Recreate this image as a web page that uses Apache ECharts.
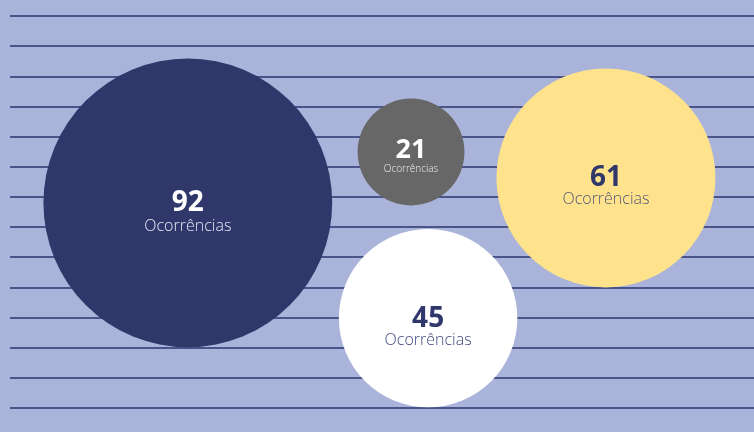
<!DOCTYPE html>
<html>
<head>
<meta charset="utf-8">
<script src="https://cdn.jsdelivr.net/npm/echarts@6/dist/echarts.min.js"></script>
<style>
  html, body { margin: 0; padding: 0; background: #aab3d9; }
  #chart { width: 754px; height: 432px; }
</style>
</head>
<body>
<div id="chart"></div>
<script>
// dados das bolhas
const valores = [92, 21, 61, 45]
const rotulo = 'Ocorrências'
const posX = [23.9, 53.9, 80.1, 56.2]
const posY = [6.8, 8.49, 7.63, 2.98]

// cores de cada bolha (preenchimento, número, texto)
const cores = [
  { fill: '#30376b', num: '#ffffff', txt: '#e6e8f4', numSize: 28, txtSize: 16, dy: 10, lh: 1.2 },
  { fill: '#676767', num: '#ffffff', txt: '#f0f0f0', numSize: 27, txtSize: 10, dy: 4, lh: 1.2 },
  { fill: '#ffe38c', num: '#30376b', txt: '#55597a', numSize: 28, txtSize: 16, dy: 8, lh: 0.95 },
  { fill: '#ffffff', num: '#30376b', txt: '#3f4a80', numSize: 28, txtSize: 16, dy: 9, lh: 1.0 }
]

// diâmetro em função do valor
function tamanho(v) {
  return 13.77 * Math.pow(v, 0.673)
}

const myChart = echarts.init(document.getElementById('chart'))

const dados = valores.map(function (v, i) {
  const c = cores[i]
  return {
    value: [posX[i], posY[i], v],
    itemStyle: { color: c.fill, opacity: 1 },
    label: {
      offset: [0, c.dy],
      rich: {
        n: { fontSize: c.numSize, fontWeight: 'bold', color: c.num, lineHeight: c.numSize * 0.95, fontFamily: 'Open Sans' },
        t: { fontSize: c.txtSize, color: c.txt, lineHeight: c.txtSize * c.lh, fontFamily: 'Open Sans', fontWeight: 300 }
      }
    }
  }
})

const option = {
  backgroundColor: '#aab3d9',
  animation: false,
  grid: { left: 10, right: 0, top: 16, bottom: 24 },
  xAxis: { type: 'value', min: 0, max: 100, show: false },
  yAxis: {
    type: 'value', min: 0, max: 13, interval: 1,
    axisLine: { show: false }, axisTick: { show: false }, axisLabel: { show: false },
    splitLine: { show: true, lineStyle: { color: '#4a5488', width: 2 } }
  },
  series: [{
    type: 'scatter',
    clip: false,
    symbol: 'circle',
    symbolSize: function (val) { return tamanho(val[2]) },
    data: dados,
    label: {
      show: true,
      position: 'inside',
      formatter: function (p) { return '{n|' + p.value[2] + '}\n{t|' + rotulo + '}' }
    },
    emphasis: { disabled: true }
  }]
}

myChart.setOption(option)
</script>
</body>
</html>
